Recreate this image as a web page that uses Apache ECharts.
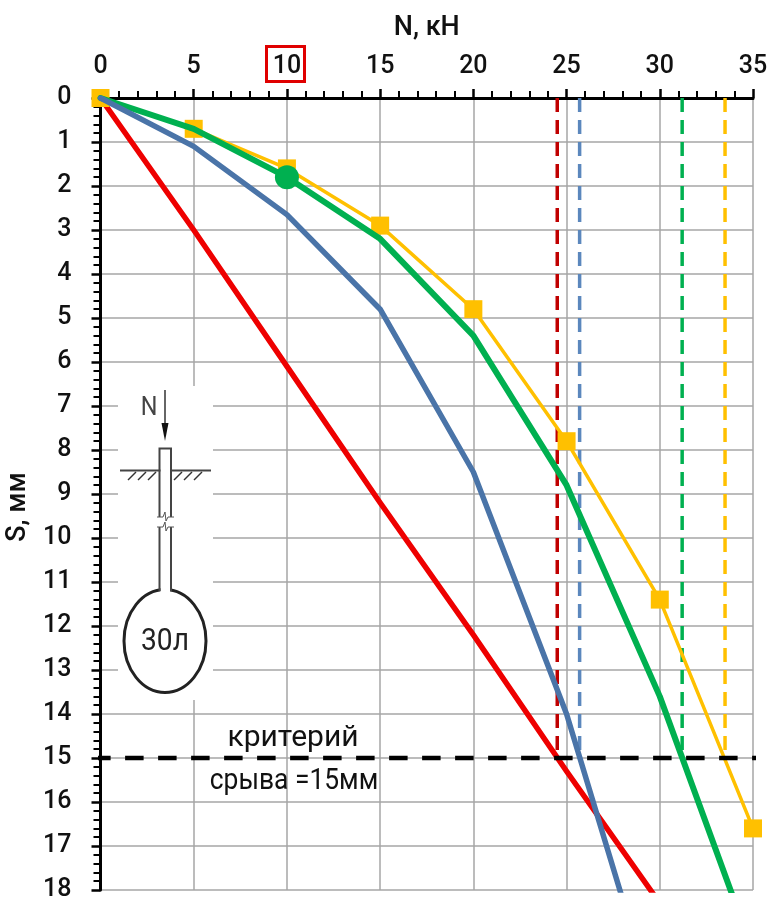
<!DOCTYPE html>
<html><head><meta charset="utf-8">
<style>html,body{margin:0;padding:0;background:#fff}#c{width:767px;height:898px}</style>
<script src="https://cdn.jsdelivr.net/npm/echarts@6/dist/echarts.min.js"></script>
</head><body><div id="c"></div>
<script>
const FONT = 'Roboto,sans-serif';
const redCurve = [[0,0],[5,3],[10,6.1],[15,9.2],[20,12.2],[25,15.3],[30,18.3]];
const blueCurve = [[0,0],[5,1.1],[10,2.65],[15,4.8],[20,8.5],[25,14],[30,21]];
const greenCurve = [[0,0],[5,0.7],[10,1.8],[15,3.2],[20,5.4],[25,8.8],[30,13.6],[35,19.4]];
const yellowCurve = [[0,0],[5,0.7],[10,1.6],[15,2.9],[20,4.8],[25,7.8],[30,11.4],[35,16.6]];
const greenDot = [[10,1.8]];
const limitRed = [[24.5,0],[24.5,15]];
const limitBlue = [[25.7,0],[25.7,15]];
const limitGreen = [[31.2,0],[31.2,15]];
const limitYellow = [[33.5,0],[33.5,15]];
const criterionLine = [[-0.45,15],[35.4,15]];
const xLabelName = 'N, кН';
const yLabelName = 'S, мм';
const critTop = 'критерий';
const critBottom = 'срыва =15мм';
const insetVolume = '30л';

const GRID = '#A6A6A6';
function curve(name,data,color,width,extra){
  return Object.assign({name,type:'line',data,showSymbol:false,symbol:'none',silent:true,
    lineStyle:{color,width,cap:'round',join:'round'},clip:true,animation:false},extra||{});
}
function dashed(name,data,color){
  return {name,type:'line',data,symbol:'none',silent:true,animation:false,
    lineStyle:{color,width:3.5,type:[14,8],cap:'butt'},z:2};
}
const hatch = [];
[128,138,148,174,184,194].forEach(x=>hatch.push(
  {type:'line',z:50,shape:{x1:x,y1:480,x2:x+8,y2:472},style:{stroke:'#333',lineWidth:1.5}}));
const chart = echarts.init(document.getElementById('c'),null,{renderer:'canvas'});
chart.setOption({
  animation:false,backgroundColor:'#fff',
  grid:{left:100.5,top:98,width:652.5,height:792,containLabel:false,outerBoundsMode:'none'},
  xAxis:{type:'value',position:'top',min:0,max:35,interval:5,
    name:xLabelName,nameLocation:'middle',nameGap:56,
    nameTextStyle:{fontFamily:FONT,fontWeight:500,fontSize:27,color:'#111'},
    axisLine:{show:true,onZero:false,lineStyle:{color:'#000',width:3}},
    axisTick:{show:true,length:9,lineStyle:{color:'#000',width:2.5}},
    minorTick:{show:true,splitNumber:5,length:7,lineStyle:{color:'#000',width:2}},
    axisLabel:{margin:19,fontFamily:FONT,fontWeight:500,fontSize:25,color:'#111'},
    splitLine:{show:true,lineStyle:{color:GRID,width:1.5}}},
  yAxis:{type:'value',inverse:true,min:0,max:18,interval:1,
    name:yLabelName,nameLocation:'middle',nameGap:53,nameRotate:90,
    nameTextStyle:{fontFamily:FONT,fontWeight:500,fontSize:27,color:'#111',padding:[0,0,0,-26]},
    axisLine:{show:true,onZero:false,lineStyle:{color:'#000',width:3}},
    axisTick:{show:true,length:9,lineStyle:{color:'#000',width:2.5}},
    minorTick:{show:true,splitNumber:5,length:7,lineStyle:{color:'#000',width:2}},
    axisLabel:{margin:29,padding:[4,0,0,0],fontFamily:FONT,fontWeight:500,fontSize:25,color:'#111'},
    splitLine:{show:true,lineStyle:{color:GRID,width:1.5}}},
  series:[
    dashed('limit red',limitRed,'#C00000'),
    dashed('limit blue',limitBlue,'#5B87BD'),
    dashed('limit green',limitGreen,'#00B050'),
    dashed('limit yellow',limitYellow,'#FFC000'),
    curve('red',redCurve,'#EE0000',5.5,{z:3}),
    {name:'yellow',type:'line',data:yellowCurve,symbol:'rect',symbolSize:18,showSymbol:true,clip:false,
      silent:true,animation:false,z:4,lineStyle:{color:'#FFC000',width:3.5},itemStyle:{color:'#FFC000'}},
    curve('green',greenCurve,'#00B050',6,{z:5}),
    curve('blue',blueCurve,'#4A74A8',5.5,{z:6}),
    {name:'point',type:'scatter',data:greenDot,symbol:'circle',symbolSize:24,silent:true,animation:false,z:7,
      itemStyle:{color:'#00B050',opacity:1}},
    {name:'criterion',type:'line',data:criterionLine,symbol:'none',clip:false,silent:true,animation:false,z:8,
      lineStyle:{color:'#000',width:4.5,type:[18.5,14.5],cap:'butt'}}
  ],
  graphic:{elements:[
    {type:'rect',z:40,shape:{x:118,y:386,width:95,height:314},style:{fill:'#fff'}},
    {type:'rect',z:50,shape:{x:266.5,y:46.5,width:38,height:35},style:{fill:'none',stroke:'#E00000',lineWidth:3}},
    {type:'text',z:50,x:293,y:738,style:{text:critTop,font:'30px '+FONT,fill:'#111',align:'center',verticalAlign:'middle'}},
    {type:'text',z:50,x:294,y:781,scaleX:0.88,style:{text:critBottom,font:'30px '+FONT,fill:'#111',align:'center',verticalAlign:'middle'}},
    // inset: pile with bulb
    {type:'text',z:50,x:149,y:408,scaleX:0.9,style:{text:'N',font:'26px '+FONT,fill:'#444',align:'center',verticalAlign:'middle'}},
    {type:'line',z:50,shape:{x1:165,y1:390,x2:165,y2:428},style:{stroke:'#333',lineWidth:1.5}},
    {type:'polygon',z:50,shape:{points:[[161.5,423],[168.5,423],[165,441]]},style:{fill:'#111'}},
    {type:'polyline',z:50,shape:{points:[[159.5,517],[159.5,448.5],[171,448.5],[171,517]]},style:{stroke:'#444',fill:'none',lineWidth:2}},
    {type:'polyline',z:50,shape:{points:[[159.5,527],[159.5,591]]},style:{stroke:'#444',fill:'none',lineWidth:2}},
    {type:'polyline',z:50,shape:{points:[[171,527],[171,591]]},style:{stroke:'#444',fill:'none',lineWidth:2}},
    {type:'line',z:48,shape:{x1:120,y1:470.5,x2:211,y2:470.5},style:{stroke:'#444',lineWidth:2}},
    {type:'rect',z:49,shape:{x:160.5,y:462,width:9.5,height:16},style:{fill:'#fff'}},
    {type:'polyline',z:50,shape:{points:[[157,517],[163,517],[165,512],[166,521],[168,517],[174,517]]},style:{stroke:'#555',fill:'none',lineWidth:1}},
    {type:'polyline',z:50,shape:{points:[[157,527],[163,527],[165,522],[166,531],[168,527],[174,527]]},style:{stroke:'#555',fill:'none',lineWidth:1}},
    {type:'ellipse',z:48,shape:{cx:165,cy:641,rx:41,ry:51.5},style:{fill:'#fff',stroke:'#222',lineWidth:3}},
    {type:'rect',z:49,shape:{x:160.5,y:586,width:9.5,height:8},style:{fill:'#fff'}},
    {type:'text',z:50,x:165,y:642,scaleX:0.88,style:{text:insetVolume,font:'32px '+FONT,fill:'#222',align:'center',verticalAlign:'middle'}}
  ].concat(hatch)}
});
</script></body></html>
